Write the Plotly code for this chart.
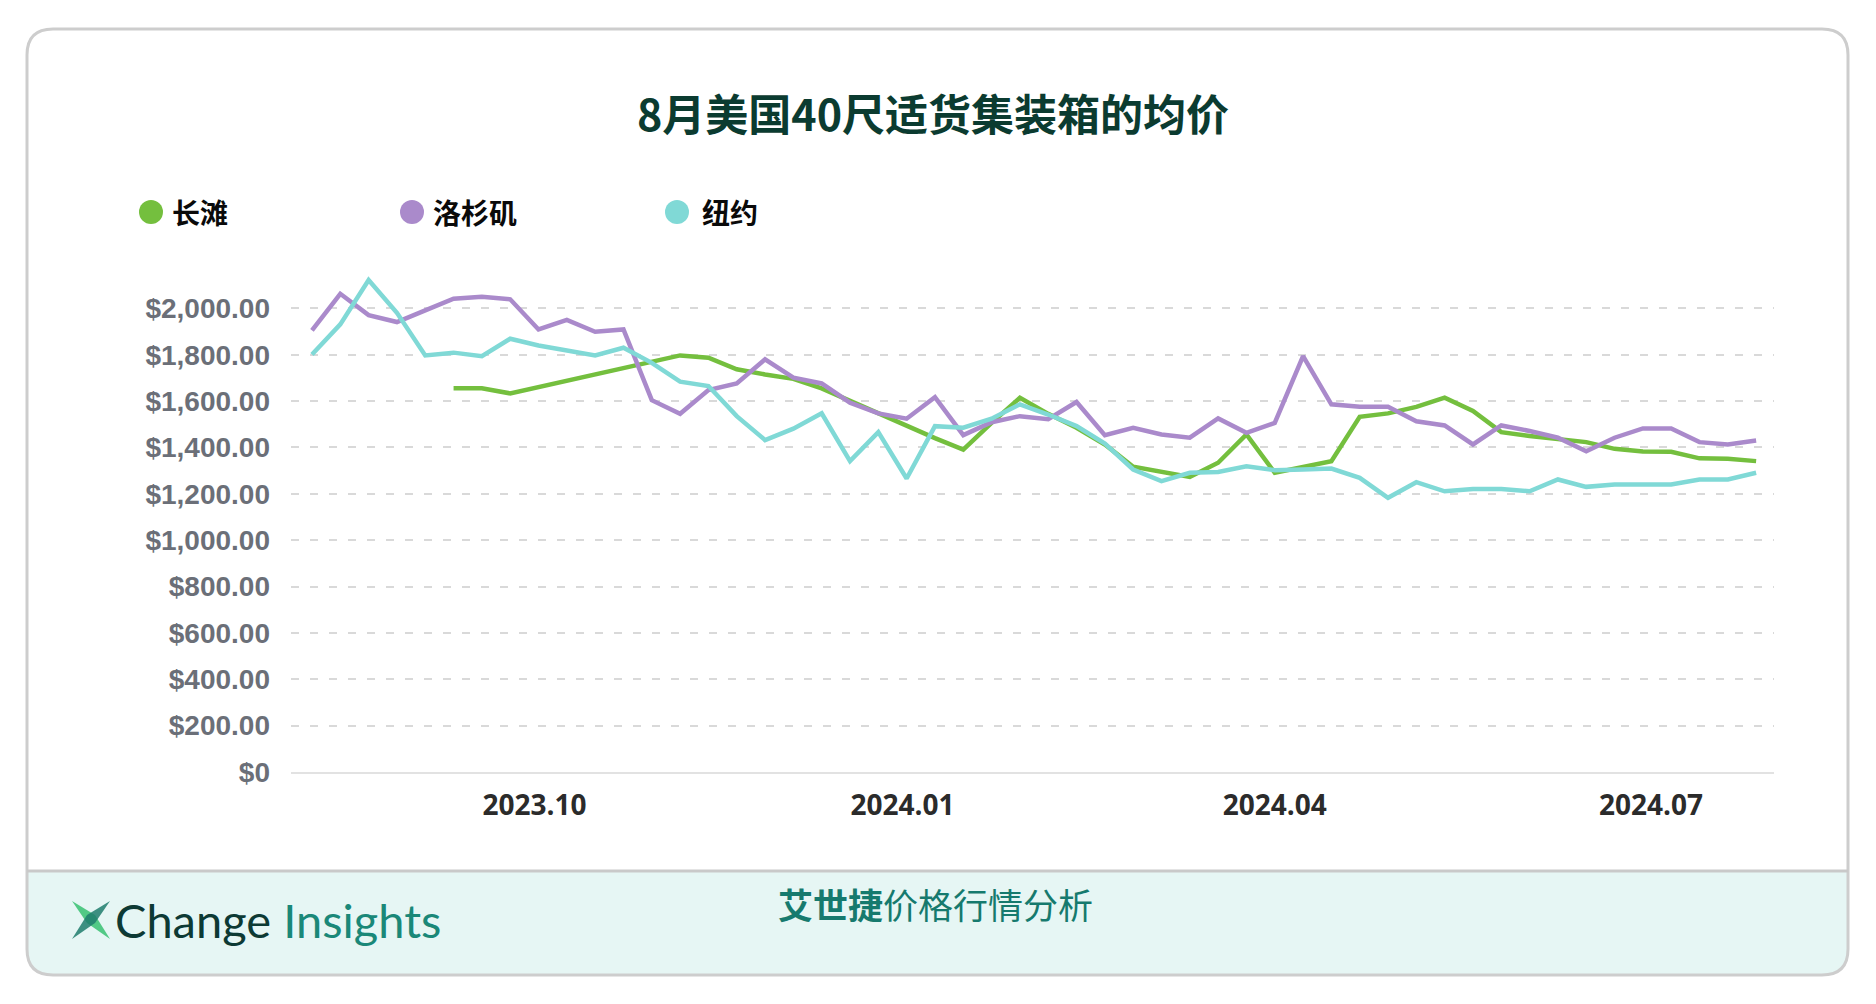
import pandas as pd
import plotly.graph_objects as go

# weekly readings, Aug 2023 - Jul 2024
weeks = pd.date_range("2023-08-07", periods=52, freq="7D")

long_beach = [None, None, None, None, None, 1655, 1655, 1633, 1660, 1688,
              1715, 1742, 1770, 1797, 1787, 1737, 1715, 1696, 1655, 1600,
              1545, 1490, 1440, 1391, 1506, 1614, 1545, 1485, 1413, 1317,
              1294, 1273, 1334, 1456, 1291, 1317, 1341, 1532, 1547, 1575,
              1615, 1557, 1466, 1449, 1435, 1423, 1394, 1383, 1381, 1353,
              1351, 1341]
los_angeles = [1905, 2063, 1971, 1941, 1991, 2042, 2050, 2039, 1909, 1950,
               1899, 1909, 1604, 1545, 1648, 1676, 1780, 1701, 1676, 1593,
               1547, 1524, 1617, 1453, 1509, 1535, 1522, 1596, 1453, 1485,
               1456, 1442, 1525, 1463, 1506, 1794, 1586, 1576, 1576, 1513,
               1495, 1413, 1495, 1471, 1442, 1384, 1442, 1482, 1482, 1423,
               1413, 1430]
new_york = [1801, 1931, 2122, 1981, 1797, 1809, 1794, 1869, 1840, 1820,
            1797, 1830, 1765, 1684, 1665, 1535, 1432, 1481, 1547, 1341,
            1466, 1266, 1492, 1485, 1524, 1586, 1542, 1492, 1417, 1305,
            1255, 1291, 1294, 1319, 1302, 1305, 1309, 1269, 1183, 1250,
            1211, 1221, 1221, 1211, 1262, 1230, 1240, 1240, 1240, 1262,
            1262, 1291]

series_names = ["长滩", "洛杉矶", "纽约"]
series_colors = ["#74bf3e", "#aa8acb", "#80d9d6"]

y_ticks = [0, 200, 400, 600, 800, 1000, 1200, 1400, 1600, 1800, 2000]
y_labels = ["$0", "$200.00", "$400.00", "$600.00", "$800.00", "$1,000.00",
            "$1,200.00", "$1,400.00", "$1,600.00", "$1,800.00", "$2,000.00"]
x_ticks = ["2023-10-01", "2023-12-31", "2024-04-01", "2024-07-03"]
x_labels = ["2023.10", "2024.01", "2024.04", "2024.07"]

# the page body adds an 8px margin, so the figure is laid out 8px up/left
OFF = 8
W, H = 1860, 988
L, R, T, B = 291, 1774, 262, 772   # plot area in page pixels
CJK = "Noto Sans CJK SC"


def px(x):
    return (x - L) / (R - L)


def py(y):
    return (B - y) / (B - T)


def P(x, y):
    return f"{px(x):.5f},{py(y):.5f}"


fig = go.Figure()
for name, vals, col in zip(series_names, [long_beach, los_angeles, new_york], series_colors):
    fig.add_trace(go.Scatter(x=weeks, y=vals, name=name, mode="lines",
                             line=dict(color=col, width=4.5), showlegend=False))

# card + footer
x0, x1, y0, y1, r, yf = 27, 1848, 29, 975, 26, 871
card = (f"M {P(x0 + r, y0)} L {P(x1 - r, y0)} Q {P(x1, y0)} {P(x1, y0 + r)} "
        f"L {P(x1, y1 - r)} Q {P(x1, y1)} {P(x1 - r, y1)} L {P(x0 + r, y1)} "
        f"Q {P(x0, y1)} {P(x0, y1 - r)} L {P(x0, y0 + r)} Q {P(x0, y0)} {P(x0 + r, y0)} Z")
footer = (f"M {P(x0, yf)} L {P(x1, yf)} L {P(x1, y1 - r)} Q {P(x1, y1)} {P(x1 - r, y1)} "
          f"L {P(x0 + r, y1)} Q {P(x0, y1)} {P(x0, y1 - r)} Z")
shapes = [
    dict(type="path", path=footer, xref="paper", yref="paper", fillcolor="#e6f6f4",
         line=dict(width=0), layer="below"),
    dict(type="path", path=card, xref="paper", yref="paper",
         line=dict(color="#cdcdcd", width=3), layer="below"),
    dict(type="line", x0=px(x0), x1=px(x1), y0=py(yf), y1=py(yf), xref="paper", yref="paper",
         line=dict(color="#c9c9c9", width=3), layer="below"),
    # logo mark
    dict(type="path", xref="paper", yref="paper", fillcolor="#52c985", line=dict(width=0),
         path=f"M {P(72, 901)} L {P(95, 915)} L {P(110, 939)} L {P(87, 923)} Z"),
    dict(type="path", xref="paper", yref="paper", fillcolor="#1f7d6c", opacity=0.85,
         line=dict(width=0),
         path=f"M {P(72, 939)} L {P(87, 915)} L {P(110, 901)} L {P(95, 923)} Z"),
]

annotations = []
# legend
for cx, tx, name, col in zip([151, 412, 677], [170, 431, 700], series_names, series_colors):
    shapes.append(dict(type="circle", xref="paper", yref="paper", xsizemode="pixel",
                       ysizemode="pixel", xanchor=px(cx), yanchor=py(212),
                       x0=-12, x1=12, y0=-12, y1=12, fillcolor=col, line=dict(width=0)))
    annotations.append(dict(x=px(tx), y=py(212), xref="paper", yref="paper", text=name,
                            showarrow=False, xanchor="left", yanchor="middle",
                            font=dict(family=CJK, size=28, color="#0a0a0a", weight="bold")))

annotations.append(dict(x=px(113), y=py(920), xref="paper", yref="paper", showarrow=False,
                        xanchor="left", yanchor="middle",
                        text="<span style='color:#0d3a34'>Change</span> "
                             "<span style='color:#1a8878'>Insights</span>",
                        font=dict(family="Lato", size=47)))
annotations.append(dict(x=px(935), y=py(903), xref="paper", yref="paper", showarrow=False,
                        xanchor="center", yanchor="middle",
                        text="<b>艾世捷</b>价格行情分析",
                        font=dict(family=CJK, size=35, color="#167a6e")))

fig.update_layout(
    width=W, height=H,
    margin=dict(l=L - OFF, r=W - (R - OFF), t=T - OFF, b=H - (B - OFF), pad=0),
    paper_bgcolor="white", plot_bgcolor="rgba(0,0,0,0)",
    title=dict(text="8月美国40尺适货集装箱的均价", x=(933 - OFF) / W, y=1 - (116 - OFF) / H,
               xanchor="center", yanchor="middle",
               font=dict(family=CJK, size=43, color="#0b3b30", weight="bold")),
    xaxis=dict(type="date", range=["2023-08-01 19:30", "2024-08-02 10:00"],
               tickvals=x_ticks, ticktext=x_labels, showgrid=False, zeroline=False,
               showline=True, linecolor="#e2e2e2", linewidth=2, ticks="",
               ticklabelstandoff=7,
               tickfont=dict(family="Open Sans", size=28, color="#2b2b2b", weight="bold")),
    yaxis=dict(range=[0, 2200], tickvals=y_ticks, ticktext=y_labels, showgrid=True,
               gridcolor="#d9d9d9", gridwidth=2, griddash="8px,11px", zeroline=False,
               showline=False, ticks="", ticklabelstandoff=20,
               tickfont=dict(family="Liberation Sans", size=28, color="#6b6f78", weight="bold")),
    shapes=shapes, annotations=annotations,
    hovermode="x unified",
)

fig.write_html("out.html")
